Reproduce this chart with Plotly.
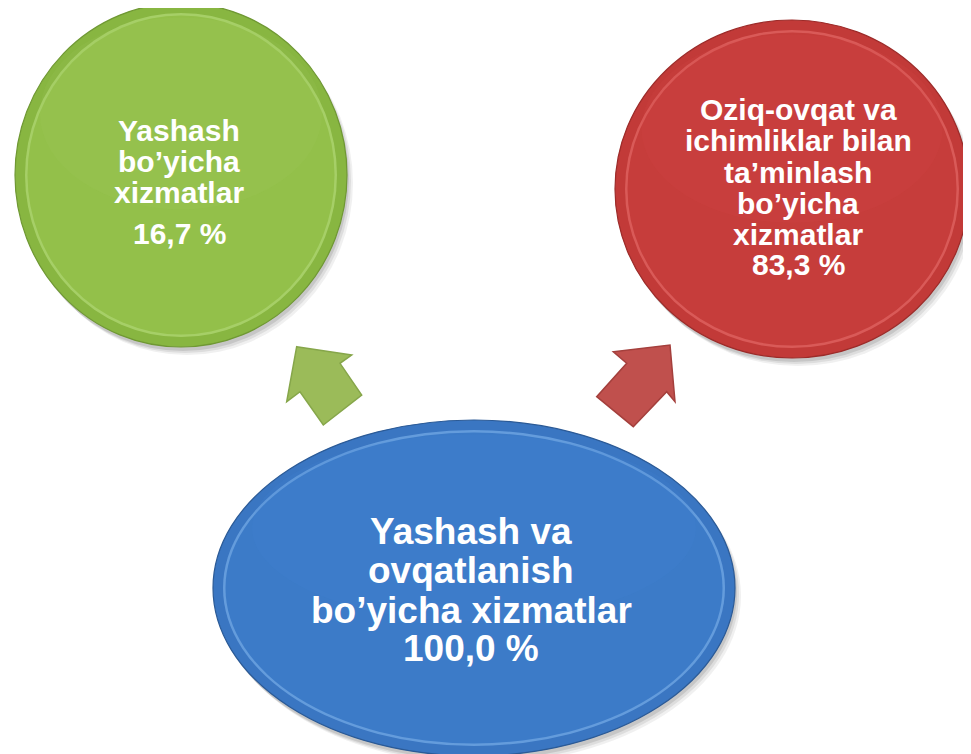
import plotly.graph_objects as go

# ---- data ----
green_lines = ["Yashash", "bo’yicha", "xizmatlar"]
green_value = "16,7 %"
red_lines = ["Oziq-ovqat va", "ichimliklar bilan", "ta’minlash", "bo’yicha", "xizmatlar"]
red_value = "83,3 %"
blue_lines = ["Yashash va", "ovqatlanish", "bo’yicha xizmatlar"]
blue_value = "100,0 %"

W, H = 971, 754
PAD = 8  # browser default body margin

fig = go.Figure()
fig.add_trace(go.Scatter(x=[PAD, W], y=[PAD, H], mode="markers", marker=dict(opacity=0), hoverinfo="skip", showlegend=False))

shapes = []
annotations = []


def ellipse(cx, cy, a, b, body, rim, hi, dark, top):
    # soft shadow
    for off, op in [(6, 0.06), (4, 0.08), (2, 0.10)]:
        shapes.append(dict(type="circle", x0=cx - a + off, x1=cx + a + off, y0=cy - b + off + 2, y1=cy + b + off + 2,
                           fillcolor="rgba(0,0,0,%.2f)" % op, line=dict(width=0), layer="below"))
    # outer rim
    shapes.append(dict(type="circle", x0=cx - a, x1=cx + a, y0=cy - b, y1=cy + b,
                       fillcolor=rim, line=dict(color=dark, width=1.2), layer="below"))
    # highlight ring
    ins = 10
    shapes.append(dict(type="circle", x0=cx - a + ins, x1=cx + a - ins, y0=cy - b + ins, y1=cy + b - ins,
                       fillcolor=hi, line=dict(width=0), opacity=0.55, layer="below"))
    # inner body
    ins2 = 12.5
    shapes.append(dict(type="circle", x0=cx - a + ins2, x1=cx + a - ins2, y0=cy - b + ins2, y1=cy + b - ins2,
                       fillcolor=body, line=dict(width=0), layer="below"))
    # subtle lighter top portion
    shapes.append(dict(type="circle", x0=cx - a * 0.85, x1=cx + a * 0.85, y0=cy - b + ins2 + 2, y1=cy + b * 0.2,
                       fillcolor=top, opacity=0.15, line=dict(width=0), layer="below"))


def block_arrow(pts, fill, edge):
    path = "M " + " L ".join("%.1f,%.1f" % p for p in pts) + " Z"
    shapes.append(dict(type="path", path=path, fillcolor=fill, line=dict(color=edge, width=1.5), layer="below"))


def add_lines(lines, ys, x, size):
    for t, y in zip(lines, ys):
        annotations.append(dict(x=x, y=y, xref="x", yref="y", text="<b>%s</b>" % t, showarrow=False,
                                font=dict(family="Arial, Liberation Sans, sans-serif", size=size, color="white"),
                                xanchor="center", yanchor="middle"))


# ellipses
ellipse(181, 175, 166, 172, "#93C04A", "#88B641", "#BFE386", "#6F9833", "#A3CC5E")
ellipse(792, 189, 177, 169, "#C63D3B", "#C23A38", "#EC7572", "#9C2B29", "#D84D4A")
ellipse(474, 588, 261, 168, "#3C7BC8", "#3A76C2", "#86BBF2", "#2B5A96", "#4487D6")

# arrows
block_arrow([(296.7, 346.7), (351.7, 355.0), (340.0, 363.3), (361.7, 395.0), (323.3, 425.0), (300.0, 391.7), (286.7, 401.7)],
            "#9BBB59", "#86A64A")
block_arrow([(670.0, 345.0), (675.0, 401.7), (666.7, 391.7), (633.3, 426.7), (596.7, 396.7), (626.7, 363.3), (613.3, 351.7)],
            "#C0504D", "#A43F3C")

# texts
add_lines(green_lines + [green_value], [130, 161, 192, 233], 179, 30)
add_lines(red_lines + [red_value], [109, 140, 172, 203, 234, 264], 798, 30)
add_lines(blue_lines + [blue_value], [531, 570, 610, 648], 471, 37)

fig.update_layout(
    width=W - PAD, height=H - PAD, margin=dict(l=0, r=0, t=0, b=0),
    paper_bgcolor="white", plot_bgcolor="white",
    xaxis=dict(range=[PAD, W], visible=False, fixedrange=True),
    yaxis=dict(range=[H, PAD], visible=False, fixedrange=True),
    shapes=shapes, annotations=annotations, showlegend=False,
)

fig.write_html("out.html")
